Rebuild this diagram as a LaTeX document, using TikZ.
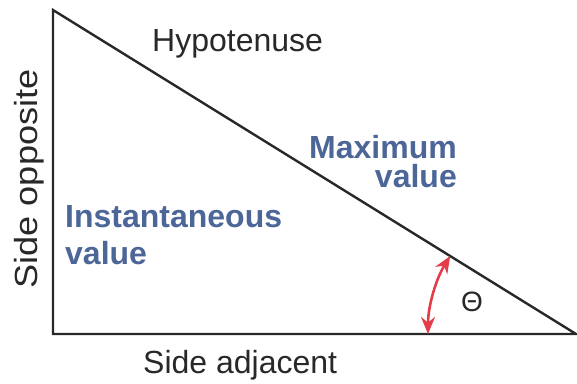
\documentclass[tikz,border=0pt]{standalone}
\usepackage{fontspec}
\setmainfont{Liberation Sans}
\usetikzlibrary{arrows.meta}
\definecolor{inkgray}{RGB}{40,40,40}
\definecolor{valueblue}{RGB}{76,102,152}
\definecolor{arrowred}{RGB}{228,60,72}

\begin{document}
\begin{tikzpicture}[x=1pt, y=1pt,
    sidelabel/.style={inner sep=0pt, text=inkgray, font=\fontsize{32}{37}\selectfont},
    valuelabel/.style={inner sep=0pt, text=valueblue, font=\fontsize{32}{37}\selectfont\bfseries}]
  \useasboundingbox (0,0) rectangle (577,383);
  % triangle corners
  \coordinate (top) at (53,373);
  \coordinate (corner) at (53,49);
  \coordinate (tip) at (576,49);
  \draw[inkgray, line width=2.4pt, line join=miter] (top) -- (corner) -- (tip) -- cycle;
  % side names
  \node[sidelabel, anchor=base west] (hyp) at (152,331) {Hypotenuse};
  \node[sidelabel, anchor=base west] (adj) at (143,10) {Side adjacent};
  \node[sidelabel, anchor=base, rotate=90, xscale=1.13] (opp) at (37,204) {Side opposite};
  % values
  \node[valuelabel, anchor=north west, align=left] (inst) at (65,178) {Instantaneous\\value};
  \node[valuelabel, anchor=north east, align=right,
        font=\fontsize{32}{29}\selectfont\bfseries] (max) at (457,248) {Maximum\\value};
  % angle
  \coordinate (arcstart) at (428,49);
  \draw[arrowred, line width=2.6pt,
        {Stealth[length=17pt, width=14pt]}-{Stealth[length=17pt, width=14pt]}]
    (arcstart) arc[start angle=180, end angle=148.2, radius=148];
  \node[text=inkgray, font=\fontsize{28}{32}\selectfont] (theta) at (472,81) {Θ};
\end{tikzpicture}
\end{document}
